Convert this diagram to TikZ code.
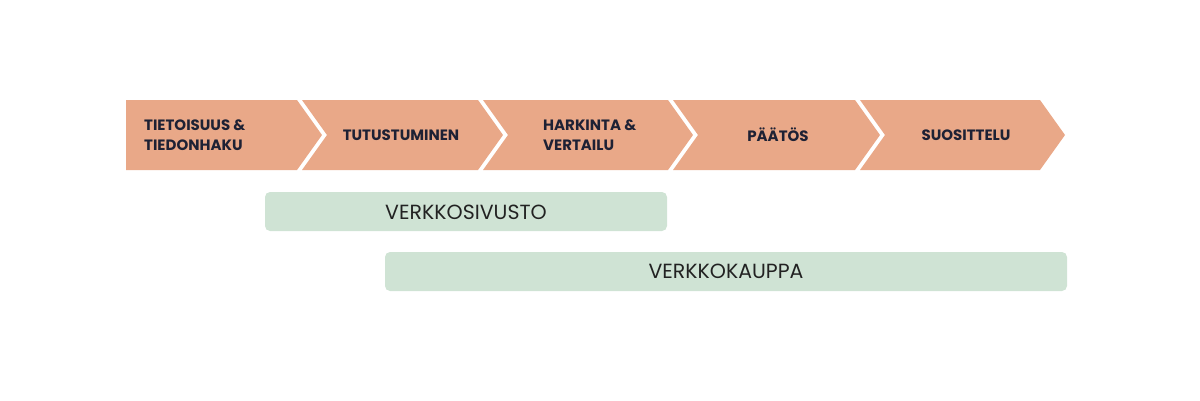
\documentclass[tikz,border=0pt]{standalone}
\usepackage{fontspec}
\setmainfont{Poppins}
\definecolor{salmon}{RGB}{233,168,136}
\definecolor{mint}{RGB}{207,227,212}
\definecolor{navy}{RGB}{30,33,52}
\definecolor{ink}{RGB}{34,34,34}
\tikzset{
  chev/.style={fill=salmon, draw=none},
  steplabel/.style={font=\bfseries\fontsize{15}{20}\selectfont, text=navy, align=left, inner sep=0pt},
  bar/.style={fill=mint, draw=none, rounded corners=5pt},
  barlabel/.style={font=\fontsize{20.5}{22}\selectfont, text=ink, inner sep=0pt},
}
\begin{document}
\begin{tikzpicture}[x=1pt,y=-1pt]
\useasboundingbox (0,0) rectangle (1200,400);
% chevrons
\fill[chev] (126,100) -- (297,100) -- (322,135) -- (297,170) -- (126,170) -- cycle;
\fill[chev] (302,100) -- (478,100) -- (503,135) -- (478,170) -- (302,170) -- (327,135) -- cycle;
\fill[chev] (483,100) -- (668,100) -- (693,135) -- (668,170) -- (483,170) -- (508,135) -- cycle;
\fill[chev] (673,100) -- (855,100) -- (880,135) -- (855,170) -- (673,170) -- (698,135) -- cycle;
\fill[chev] (860,100) -- (1040,100) -- (1065,135) -- (1040,170) -- (860,170) -- (885,135) -- cycle;
% labels
\node[steplabel, anchor=west] (s1) at (144,135) {TIETOISUUS \&\\TIEDONHAKU};
\node[steplabel] (s2) at (401,135) {TUTUSTUMINEN};
\node[steplabel, anchor=west] (s3) at (543,135) {HARKINTA \&\\VERTAILU};
\node[steplabel] (s4) at (778,135) {PÄÄTÖS};
\node[steplabel] (s5) at (966,135) {SUOSITTELU};
% bars
\fill[bar] (265,192) rectangle (667,231);
\node[barlabel] (b1) at (466,212) {VERKKOSIVUSTO};
\fill[bar] (385,252) rectangle (1067,291);
\node[barlabel] (b2) at (726,271.5) {VERKKOKAUPPA};
\end{tikzpicture}
\end{document}
